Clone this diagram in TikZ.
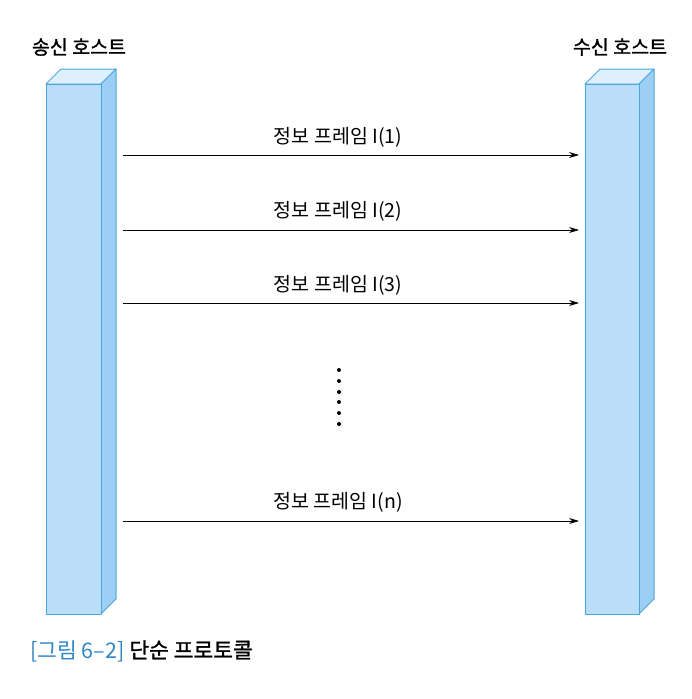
\documentclass[tikz,border=0pt]{standalone}
\usepackage{fontspec}
\setmainfont{Noto Sans CJK KR}
\newfontfamily\medfont[FakeBold=1.3]{Noto Sans CJK KR}
\usetikzlibrary{arrows.meta}
\definecolor{frontc}{HTML}{BADDF9}
\definecolor{topc}{HTML}{DFF0FC}
\definecolor{sidec}{HTML}{9DCEF4}
\definecolor{edgec}{HTML}{4BA6DC}
\definecolor{capblue}{HTML}{2F86C8}
\tikzset{
  boxedge/.style={draw=edgec, line width=1pt, line join=round},
  msg/.style={-{Stealth[length=10pt,width=6pt]}, line width=0.7pt},
  msglabel/.style={font=\fontsize{19.5}{22}\selectfont, inner sep=0pt},
  hostlabel/.style={font=\medfont\fontsize{19.5}{22}\selectfont, inner sep=0pt},
  dotmark/.style={circle, fill=black, inner sep=0pt, minimum size=4pt},
}
\begin{document}
\begin{tikzpicture}[x=1pt,y=-1pt]
\useasboundingbox (0,0) rectangle (692,699);
% left host
\filldraw[boxedge, fill=topc] (46,84) -- (61,69) -- (116,69) -- (101,84) -- cycle;
\filldraw[boxedge, fill=sidec] (101,84) -- (116,69) -- (116,599) -- (101,614) -- cycle;
\filldraw[boxedge, fill=frontc] (46,84) rectangle (101,614);
% right host
\filldraw[boxedge, fill=topc] (585,84) -- (600,69) -- (654,69) -- (639,84) -- cycle;
\filldraw[boxedge, fill=sidec] (639,84) -- (654,69) -- (654,599) -- (639,614) -- cycle;
\filldraw[boxedge, fill=frontc] (585,84) rectangle (639,614);

\node[hostlabel] (sender) at (79,47) {송신 호스트};
\node[hostlabel] (receiver) at (620,47) {수신 호스트};

\coordinate (s1) at (123,155); \coordinate (r1) at (579,155);
\coordinate (s2) at (123,230); \coordinate (r2) at (579,230);
\coordinate (s3) at (123,303); \coordinate (r3) at (579,303);
\coordinate (s4) at (123,521); \coordinate (r4) at (579,521);
\draw[msg] (s1) -- (r1);
\draw[msg] (s2) -- (r2);
\draw[msg] (s3) -- (r3);
\draw[msg] (s4) -- (r4);
\node[msglabel] (l1) at (338,137) {정보 프레임 I(1)};
\node[msglabel] (l2) at (338,211) {정보 프레임 I(2)};
\node[msglabel] (l3) at (338,285) {정보 프레임 I(3)};
\node[msglabel] (l4) at (338,502) {정보 프레임 I(n)};

\foreach \i/\yy in {1/370,2/381,3/392,4/402,5/413,6/424}
  \node[dotmark] (d\i) at (339,\yy) {};

\node[anchor=west, inner sep=0pt, font=\fontsize{21.5}{24}\selectfont] (cap) at (30,651)
  {\textcolor{capblue}{[그림 6–2]} {\medfont 단순 프로토콜}};
\end{tikzpicture}
\end{document}
